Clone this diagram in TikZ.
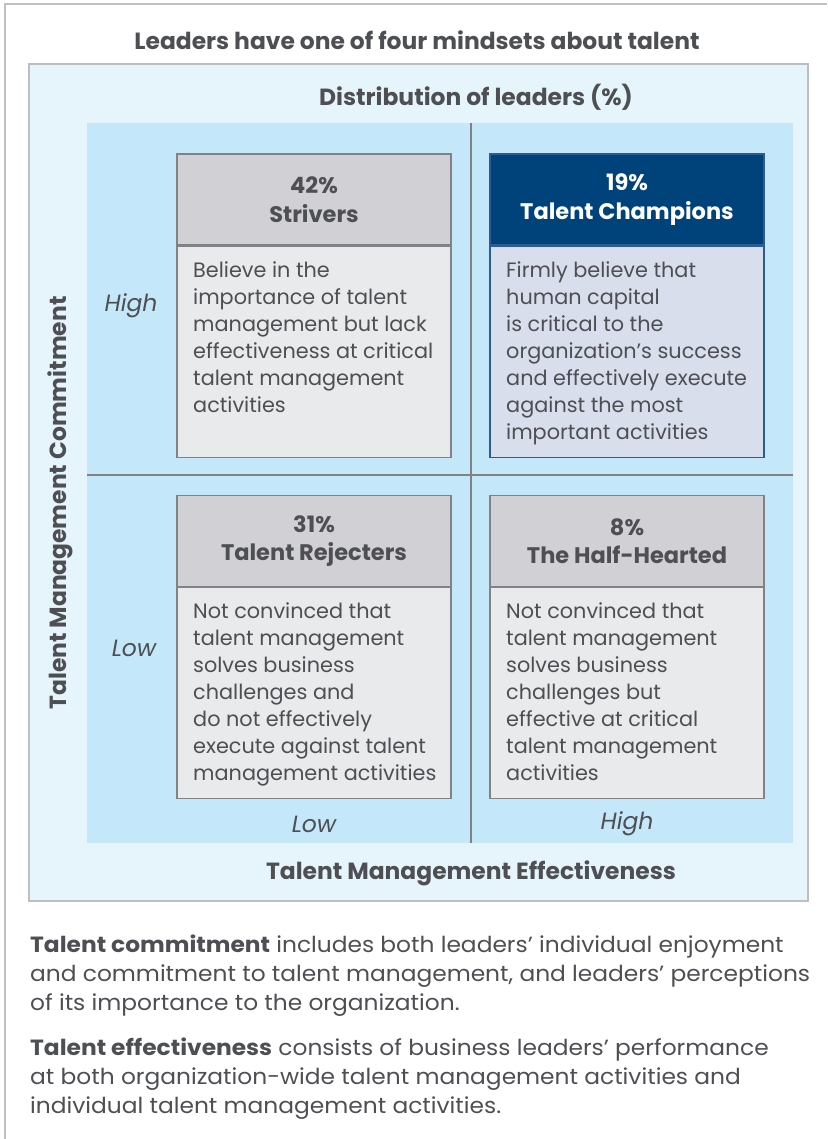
\documentclass[tikz,border=0pt]{standalone}
\usepackage{fontspec}
\setmainfont{Poppins}
\newfontfamily\notefont[FakeStretch=1.06]{Poppins}
\usetikzlibrary{positioning}
\definecolor{ink}{HTML}{4D4F53}
\definecolor{outerline}{HTML}{BFC0C2}
\definecolor{framefill}{HTML}{E6F5FC}
\definecolor{framerule}{HTML}{BDBEC0}
\definecolor{gridfill}{HTML}{C4E7F9}
\definecolor{gridline}{HTML}{808286}
\definecolor{headgray}{HTML}{D1D0D5}
\definecolor{bodygray}{HTML}{E9EAEC}
\definecolor{champhead}{HTML}{00427A}
\definecolor{champbody}{HTML}{D8DEEC}
\definecolor{champline}{HTML}{2C5B95}
\begin{document}
\begin{tikzpicture}[x=1pt,y=-1pt,
	every node/.style={text=ink,inner sep=0pt},
	headbox/.style={draw=gridline,fill=headgray,line width=1.2pt,minimum width=274pt,minimum height=91pt,
		align=center,font=\bfseries\fontsize{22.5}{28.5}\selectfont},
	bodybox/.style={draw=gridline,fill=bodygray,line width=1.2pt,minimum width=274pt,minimum height=211pt},
	bodytext/.style={anchor=north west,align=left,font=\fontsize{20.8}{27}\selectfont},
	axistitle/.style={font=\bfseries\fontsize{23.4}{26}\selectfont},
	axislevel/.style={font=\itshape\fontsize{23.5}{26}\selectfont},
	notetext/.style={anchor=north west,align=left,font=\notefont\fontsize{22}{29}\selectfont}]
\useasboundingbox (0,0) rectangle (827,1139);
\draw[outerline,line width=2pt] (5,1139) -- (5,4) -- (827,4);
\draw[framerule,fill=framefill,line width=2pt] (29,64) rectangle (808,901);
\fill[gridfill] (87,123) rectangle (793,843);
\draw[gridline,line width=1.2pt] (471,123) -- (471,843);
\draw[gridline,line width=1.2pt] (87,475) -- (793,475);

\node[axistitle] (title) at (417,40) {Leaders have one of four mindsets about talent};
\node[axistitle] (dist) at (476,97) {Distribution of leaders (\%)};
\node[axistitle] (xaxis) at (471,873) {Talent Management Effectiveness};
\node[axistitle,rotate=90] (yaxis) at (60,503) {Talent Management Commitment};
\node[axislevel] (yhigh) at (131,306) {High};
\node[axislevel] (ylow) at (134,648) {Low};
\node[axislevel] (xlow) at (314,824) {Low};
\node[axislevel] (xhigh) at (627,824) {High};

\node[headbox] (strivers) at (314,199.5) {42\%\\Strivers};
\node[bodybox,below=0pt of strivers] (strivers-body) {};
\node[bodytext] (strivers-text) at (193,261) {Believe in the\\importance of talent\\management but lack\\effectiveness at critical\\talent management\\activities};

\node[headbox,fill=champhead,draw=champline,text=white] (champions) at (627,199.5) {19\%\\Talent Champions};
\node[bodybox,fill=champbody,draw=champline,below=0pt of champions] (champions-body) {};
\node[bodytext] (champions-text) at (506,261) {Firmly believe that\\human capital\\is critical to the\\organization’s success\\and effectively execute\\against the most\\important activities};

\node[headbox] (rejecters) at (314,541) {31\%\\Talent Rejecters};
\node[bodybox,below=0pt of rejecters] (rejecters-body) {};
\node[bodytext] (rejecters-text) at (193,602.5) {Not convinced that\\talent management\\solves business\\challenges and\\do not effectively\\execute against talent\\management activities};

\node[headbox] (halfhearted) at (627,541) {8\%\\The Half-Hearted};
\node[bodybox,below=0pt of halfhearted] (halfhearted-body) {};
\node[bodytext] (halfhearted-text) at (506,602.5) {Not convinced that\\talent management\\solves business\\challenges but\\effective at critical\\talent management\\activities};

\node[notetext] (commitment-note) at (30,935)
	{\textbf{Talent commitment} includes both leaders’ individual enjoyment\\and commitment to talent management, and leaders’ perceptions\\of its importance to the organization.};
\node[notetext] (effectiveness-note) at (30,1038)
	{\textbf{Talent effectiveness} consists of business leaders’ performance\\at both organization-wide talent management activities and\\individual talent management activities.};
\end{tikzpicture}
\end{document}
